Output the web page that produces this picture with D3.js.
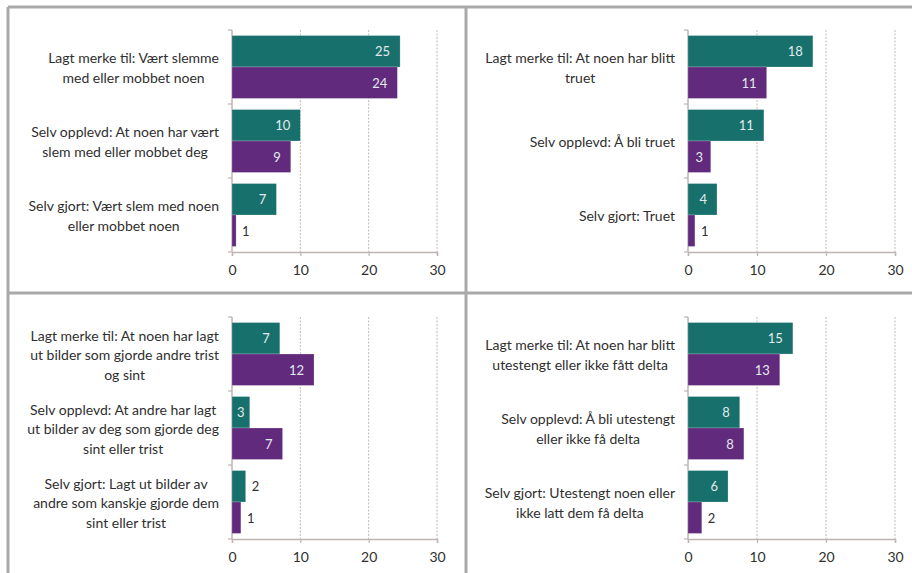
<!doctype html>
<head>
  <meta charset="utf-8">
  <script src="https://cdnjs.cloudflare.com/ajax/libs/d3/7.8.2/d3.min.js"></script>
</head>
<style>
    body { margin: 0; background: #ffffff; }
    svg { display: block; font-family: Lato, "Open Sans", sans-serif; }
</style>
<body>
    <div id="container"></div>
    <script>
        // Data: two series per panel (teal / purple), three categories each
        const categoriesMobbing = [
            "Lagt merke til: Vært slemme\nmed eller mobbet noen",
            "Selv opplevd: At noen har vært\nslem med eller mobbet deg",
            "Selv gjort: Vært slem med noen\neller mobbet noen",
        ];
        const tealMobbing = [24.6, 10.0, 6.5];
        const purpleMobbing = [24.2, 8.6, 0.6];

        const categoriesTruet = [
            "Lagt merke til: At noen har blitt\ntruet",
            "Selv opplevd: Å bli truet",
            "Selv gjort: Truet",
        ];
        const tealTruet = [18.1, 11.0, 4.2];
        const purpleTruet = [11.4, 3.3, 1.0];

        const categoriesBilder = [
            "Lagt merke til: At noen har lagt\nut bilder som gjorde andre trist\nog sint",
            "Selv opplevd: At andre har lagt\nut bilder av deg som gjorde deg\nsint eller trist",
            "Selv gjort: Lagt ut bilder av\nandre som kanskje gjorde dem\nsint eller trist",
        ];
        const tealBilder = [7.0, 2.6, 2.0];
        const purpleBilder = [12.0, 7.4, 1.3];

        const categoriesUtestengt = [
            "Lagt merke til: At noen har blitt\nutestengt eller ikke fått delta",
            "Selv opplevd: Å bli utestengt\neller ikke få delta",
            "Selv gjort: Utestengt noen eller\nikke latt dem få delta",
        ];
        const tealUtestengt = [15.2, 7.5, 5.8];
        const purpleUtestengt = [13.3, 8.1, 2.0];

        const xTicks = [0, 10, 20, 30];
        const seriesKeys = ["teal", "purple"];
        const seriesColors = {teal: "#17706c", purple: "#612a7d"};

        // Layout of the four panels (plot area positions)
        const panels = [
            {cats: categoriesMobbing, teal: tealMobbing, purple: purpleMobbing, plotX: 232, plotY: 30, plotW: 205},
            {cats: categoriesTruet, teal: tealTruet, purple: purpleTruet, plotX: 688, plotY: 30, plotW: 207},
            {cats: categoriesBilder, teal: tealBilder, purple: purpleBilder, plotX: 232, plotY: 317, plotW: 205},
            {cats: categoriesUtestengt, teal: tealUtestengt, purple: purpleUtestengt, plotX: 688, plotY: 317, plotW: 207},
        ];

        const width = 912, height = 573;
        const plotH = 222;
        const axisColor = "#bfb3b3";
        const textColor = "#2f2f2f";

        const svg = d3.select("#container")
            .append("svg")
            .attr("width", width)
            .attr("height", height);

        function drawPanel(p) {
            const g = svg.append("g");

            const x = d3.scaleLinear()
                .domain([0, 30])
                .range([p.plotX, p.plotX + p.plotW]);

            const y = d3.scaleBand()
                .domain(d3.range(p.cats.length))
                .range([p.plotY, p.plotY + plotH])
                .paddingInner(0.15)
                .paddingOuter(0.075);

            const ySub = d3.scaleBand()
                .domain(seriesKeys)
                .range([0, y.bandwidth()]);

            // Gridlines
            g.selectAll(".grid")
                .data(xTicks.filter((t) => t > 0))
                .enter()
                .append("line")
                .attr("x1", (d) => x(d))
                .attr("x2", (d) => x(d))
                .attr("y1", p.plotY)
                .attr("y2", p.plotY + plotH)
                .attr("stroke", "#c4b8b8")
                .attr("stroke-width", 1)
                .attr("stroke-dasharray", "2,1.5");

            // Horizontal axis
            const xAxis = d3.axisBottom(x)
                .tickValues(xTicks)
                .tickSize(4)
                .tickPadding(9)
                .tickFormat(d3.format("d"));
            const ax = g.append("g")
                .attr("transform", `translate(0,${p.plotY + plotH})`)
                .call(xAxis);
            ax.select(".domain").attr("stroke", axisColor).attr("stroke-width", 1.5);
            ax.selectAll(".tick line").attr("stroke", axisColor).attr("stroke-width", 1.2);
            ax.selectAll(".tick text")
                .attr("fill", textColor)
                .attr("font-size", 14)
                .attr("font-family", "Lato, sans-serif");

            // Vertical axis with ticks at category boundaries
            g.append("line")
                .attr("x1", x(0)).attr("x2", x(0))
                .attr("y1", p.plotY).attr("y2", p.plotY + plotH)
                .attr("stroke", axisColor).attr("stroke-width", 1.5);
            g.selectAll(".ytick")
                .data(d3.range(p.cats.length + 1))
                .enter()
                .append("line")
                .attr("x1", x(0) - 4).attr("x2", x(0))
                .attr("y1", (i) => p.plotY + i * y.step())
                .attr("y2", (i) => p.plotY + i * y.step())
                .attr("stroke", axisColor).attr("stroke-width", 1.2);

            // Bars
            const rows = [];
            p.cats.forEach((c, i) => {
                seriesKeys.forEach((k) => rows.push({i, key: k, value: p[k][i]}));
            });

            g.selectAll(".bar")
                .data(rows)
                .enter()
                .append("rect")
                .attr("x", x(0))
                .attr("y", (d) => y(d.i) + ySub(d.key))
                .attr("width", (d) => x(d.value) - x(0))
                .attr("height", ySub.bandwidth())
                .attr("fill", (d) => seriesColors[d.key])
                .attr("stroke", "rgba(255,255,255,0.35)")
                .attr("stroke-width", 0.6);

            // Value labels: inside end when the bar is wide enough, else outside
            const fmt = d3.format(".0f");
            g.selectAll(".val")
                .data(rows)
                .enter()
                .append("text")
                .attr("font-size", 13)
                .attr("dominant-baseline", "central")
                .attr("y", (d) => y(d.i) + ySub(d.key) + ySub.bandwidth() / 2)
                .each(function (d) {
                    const t = d3.select(this).text(fmt(d.value));
                    const w = this.getComputedTextLength();
                    const barW = x(d.value) - x(0);
                    if (barW > 15) {
                        const cx = Math.max(x(0) + barW / 2, x(d.value) - 10 - w / 2);
                        t.attr("x", cx).attr("text-anchor", "middle").attr("fill", "#e3eaec");
                    } else {
                        t.attr("x", x(d.value) + 6).attr("text-anchor", "start").attr("fill", textColor);
                    }
                });

            // Category labels: block right aligned to the axis, lines centred
            const lineH = 19.5;
            p.cats.forEach((c, i) => {
                const lines = c.split("\n");
                const cy = y(i) + y.bandwidth() / 2;
                const block = g.append("text")
                    .attr("fill", textColor)
                    .attr("font-size", 14)
                    .attr("text-anchor", "middle")
                    .attr("dominant-baseline", "central");
                const spans = lines.map((l, j) => block.append("tspan")
                    .attr("y", cy + (j - (lines.length - 1) / 2) * lineH)
                    .text(l));
                const maxW = d3.max(spans, (s) => s.node().getComputedTextLength());
                const right = x(0) - 13;
                spans.forEach((s) => s.attr("x", right - maxW / 2));
            });
        }

        panels.forEach(drawPanel);

        // Panel frame lines
        const frame = [
            {x1: 8, y1: 7, x2: 912, y2: 7},
            {x1: 8, y1: 7, x2: 8, y2: 573},
            {x1: 466, y1: 7, x2: 466, y2: 573},
            {x1: 8, y1: 293, x2: 912, y2: 293},
        ];
        svg.selectAll(".frame")
            .data(frame)
            .enter()
            .append("line")
            .attr("x1", (d) => d.x1).attr("y1", (d) => d.y1)
            .attr("x2", (d) => d.x2).attr("y2", (d) => d.y2)
            .attr("stroke", "#a9a9a9")
            .attr("stroke-width", 3);
    </script>
</body>
